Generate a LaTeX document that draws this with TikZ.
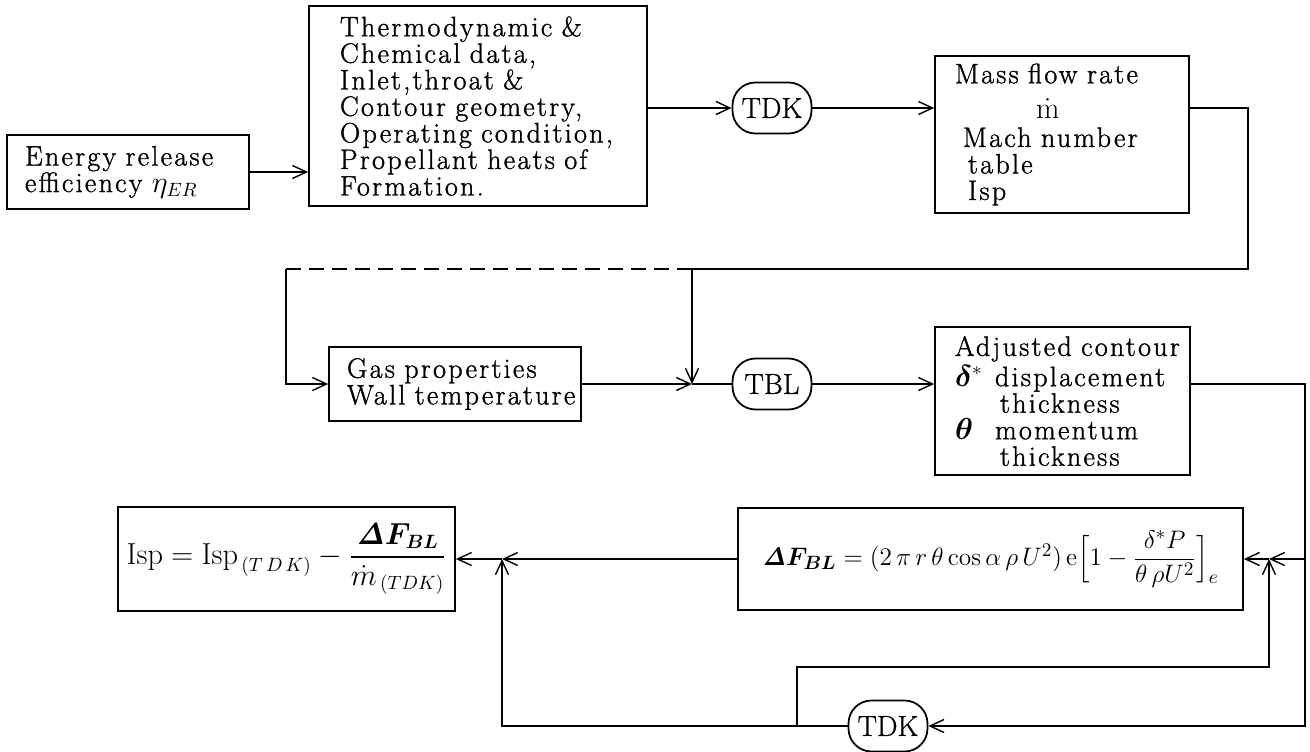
\documentclass[tikz,border=0pt]{standalone}
\usepackage{amsmath,amssymb,bm}
\usepackage[no-math]{fontspec}
\usetikzlibrary{arrows.meta,calc}
\tikzset{every node/.append style={execute at begin node={\hyphenpenalty=10000\exhyphenpenalty=10000\relax}}}
\newfontfamily\spacedfam{Latin Modern Roman}[LetterSpace=8,WordSpace=1.7,FakeBold=1.2]
\newfontfamily\calcfam{Latin Modern Roman}[FakeBold=0.8]
\newcommand\boxfont{\spacedfam\fontsize{16}{15.1}\selectfont}

\begin{document}
\begin{tikzpicture}[x=0.2mm, y=-0.2mm,
  txtbox/.style={draw, line width=1pt, rectangle, align=left, inner ysep=0pt, font=\boxfont},
  calcbox/.style={draw, line width=1pt, rounded corners=4.6mm, minimum width=15.8mm,
                  minimum height=10.2mm, inner sep=0pt, font=\calcfam\fontsize{16.5}{16.5}\selectfont},
  frmbox/.style={draw, line width=1pt, rectangle, inner xsep=1pt, inner ysep=0pt,
                 font=\fontsize{16}{16}\selectfont},
  wire/.style={line width=0.8pt},
  arr/.style={wire, -{Straight Barb[length=2.8mm,width=2.6mm]}},
]
\useasboundingbox (0,0) rectangle (1310,751);
\node[txtbox, text width=41.2mm, inner xsep=3.6mm, minimum height=14.8mm] (enrg) at (128,172)
  {Energy~release\\ efficiency~$\eta_{ER}$};
\node[txtbox, text width=55.2mm, inner xsep=6.2mm, minimum height=40mm] (data) at (478,106)
  {Thermodynamic~\&\\ Chemical~data,\\ Inlet,throat~\&\\ Contour~geometry,\\
   Operating~condition,\\ Propellant~heats~of\\ Formation.};
\node[calcbox] (tdk1) at (772,108) {TDK};
\node[txtbox, text width=42.8mm, inner xsep=4mm, minimum height=31.4mm] (mass) at (1062,134.5)
  {Mass~flow~rate\\[5pt] \hspace*{16.2mm}$\dot{\mathrm{m}}$\\[1pt] \hspace*{1.6mm}Mach~number\\
   \hspace*{2.6mm}table\\ \hspace*{2.6mm}Isp};
\node[txtbox, text width=43.2mm, inner xsep=3.6mm, minimum height=14.8mm] (gas) at (455,384)
  {Gas~properties\\ Wall~temperature};
\node[calcbox] (tbl) at (772,384) {TBL};
\node[txtbox, text width=43mm, inner xsep=4mm, minimum height=29.6mm] (adj) at (1062.5,401)
  {Adjusted~contour\\[1pt] \makebox[8mm][l]{$\bm{\delta}^{*}$}displacement\\ \hspace*{9mm}thickness\\
   \makebox[8mm][l]{$\bm{\theta}$}momentum\\ \hspace*{9mm}thickness};
\node[frmbox, minimum width=101mm, minimum height=20.4mm, font=\fontsize{15}{15}\selectfont] (dF) at (990.5,559)
  {$\bm{\mathit{\Delta}F_{BL}}=(2\,\pi\,r\,\theta\cos\alpha\,\rho\,U^{2})\,\mathrm{e}\Bigl[1-\dfrac{\delta^{*}P}{\theta\,\rho U^{2}}\Bigr]_{e}$};
\node[frmbox, minimum width=67.4mm, minimum height=20.8mm] (isp) at (286.5,559)
  {$\mathrm{Isp}=\mathrm{Isp}_{\,(T\,D\,K)}-\dfrac{\bm{\mathit{\Delta}F_{BL}}}{\dot{m}_{\,(TDK)}}$};
\node[calcbox] (tdk2) at (888,726) {TDK};
\coordinate (jn1) at (692,384);
\coordinate (rt1) at (1248,269);
\coordinate (dl) at (286,269);
\coordinate (rt2) at (1305,726);
\coordinate (jn2) at (1269,559);
\coordinate (jn3) at (502,559);
\coordinate (br) at (797,726);
\coordinate (bk) at (1269,667);
\draw[arr] (enrg.east) -- (enrg.east -| data.west);
\draw[arr] (tdk1.west -| data.east) -- (tdk1.west);
\draw[arr] (tdk1.east) -- (tdk1.east -| mass.west);
\draw[arr] (tdk1.east -| mass.east) -| (rt1) -| (jn1);
\draw[wire, dash pattern=on 3mm off 1.6mm] (jn1 |- rt1) -- (dl);
\draw[arr] (dl) |- (gas.west);
\draw[arr] (gas.east) -- (jn1);
\draw[wire] (jn1) -- (tbl.west);
\draw[arr] (tbl.east) -- (tbl.east -| adj.west);
\draw[arr] (tbl.east -| adj.east) -| (rt2) -- (tdk2.east);
\draw[arr] (rt2 |- jn2) -- (jn2);
\draw[arr] (jn2) -- (jn2 -| dF.east);
\draw[arr] (jn2 -| dF.west) -- (jn3);
\draw[arr] (jn3) -- (jn3 -| isp.east);
\draw[arr] (tdk2.west) -| (jn3);
\draw[arr] (br) |- (bk) -- (jn2);
\end{tikzpicture}
\end{document}
